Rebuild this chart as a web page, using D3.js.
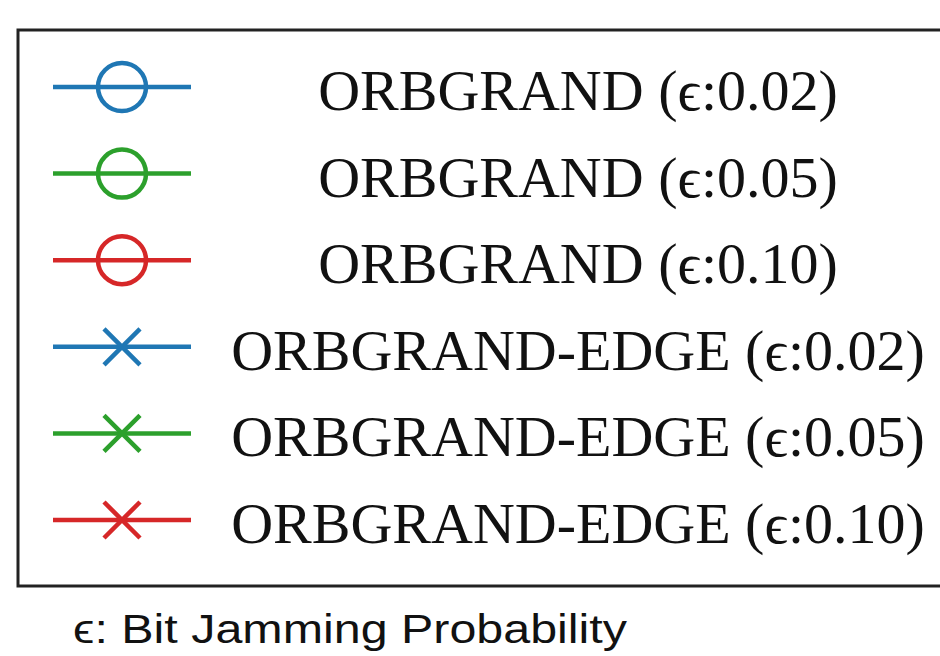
<!DOCTYPE html>
<html><head><meta charset="utf-8">
<script src="https://cdn.jsdelivr.net/npm/d3@7"></script>
<style>html,body{margin:0;padding:0;background:#fff;}</style>
</head><body>
<svg id="c" width="940" height="656"></svg>
<script>
const labels = [
  "ORBGRAND (\u03F5:0.02)",
  "ORBGRAND (\u03F5:0.05)",
  "ORBGRAND (\u03F5:0.10)",
  "ORBGRAND-EDGE (\u03F5:0.02)",
  "ORBGRAND-EDGE (\u03F5:0.05)",
  "ORBGRAND-EDGE (\u03F5:0.10)"
];
const colors = ["#1f77b4", "#2ca02c", "#d62728", "#1f77b4", "#2ca02c", "#d62728"];
const markers = ["circle", "circle", "circle", "x", "x", "x"];
const footnote = "\u03F5: Bit Jamming Probability";

const svg = d3.select("#c");
const y = d3.scalePoint().domain(labels).range([87, 520]);
const rows = labels.map((l, i) => ({label: l, color: colors[i], marker: markers[i]}));

svg.append("rect").attr("x", 18).attr("y", 30).attr("width", 960).attr("height", 556)
  .attr("fill", "none").attr("stroke", "#222").attr("stroke-width", 3);

const g = svg.selectAll("g.row").data(rows).join("g").attr("class", "row")
  .attr("transform", d => `translate(0,${y(d.label)})`);

g.append("line").attr("x1", 53).attr("x2", 191).attr("y1", 0).attr("y2", 0)
  .attr("stroke", d => d.color).attr("stroke-width", 4.5);

g.filter(d => d.marker === "circle").append("circle")
  .attr("cx", 122).attr("cy", 0).attr("r", 24)
  .attr("fill", "none").attr("stroke", d => d.color).attr("stroke-width", 4.5);

g.filter(d => d.marker === "x").append("path")
  .attr("d", "M104,-18L140,18M104,18L140,-18")
  .attr("fill", "none").attr("stroke", d => d.color).attr("stroke-width", 4.5);

g.append("text").attr("x", 578).attr("y", 23).attr("text-anchor", "middle")
  .attr("font-family", "'Liberation Serif', 'DejaVu Serif', serif").attr("font-size", 58)
  .attr("fill", "#111").text(d => d.label);

svg.append("text").attr("x", 73).attr("y", 643)
  .attr("font-family", "'Liberation Sans', 'Noto Sans', sans-serif").attr("font-size", 40)
  .attr("textLength", 554).attr("lengthAdjust", "spacingAndGlyphs")
  .attr("fill", "#111").text(footnote);
</script>
</body></html>
